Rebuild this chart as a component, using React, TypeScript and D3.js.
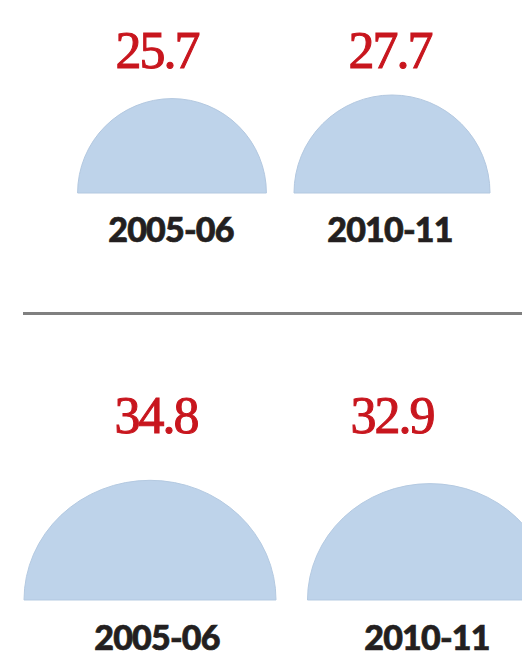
import React, { useEffect, useRef } from "react";
import * as d3 from "d3";

// two panels, each with two periods
const periods = ["2005-06", "2010-11"];
const topValues = [25.7, 27.7];
const bottomValues = [34.8, 32.9];

const width = 522;
const height = 656;

const App = () => {
  const chartRef = useRef<SVGSVGElement>(null);

  useEffect(() => {
    const svg = d3.select(chartRef.current);
    svg.selectAll("*").remove();

    svg
      .attr("width", width)
      .attr("height", height)
      .attr("viewBox", [0, 0, width, height])
      .style("background", "#ffffff");

    const rows = [
      {
        values: topValues,
        x: d3.scalePoint(periods, [172, 392]),
        r: d3.scaleSqrt([0, d3.max(topValues)], [0, 98]),
        squash: 1,
        base: 193,
        valueY: 68,
        valueDx: [-15, -2],
        labelY: 242,
        labelDx: [-1, -2],
      },
      {
        values: bottomValues,
        x: d3.scalePoint(periods, [150, 430]),
        r: d3.scaleSqrt([0, d3.max(bottomValues)], [0, 126]),
        squash: 0.95,
        base: 600,
        valueY: 433,
        valueDx: [6, -38],
        labelY: 650,
        labelDx: [7, -3],
      },
    ];

    const arc = d3
      .arc()
      .innerRadius(0)
      .startAngle(-Math.PI / 2)
      .endAngle(Math.PI / 2);

    rows.forEach((row) => {
      const g = svg.append("g");

      g.selectAll("path")
        .data(row.values)
        .join("path")
        .attr(
          "transform",
          (d, i) =>
            `translate(${row.x(periods[i])},${row.base}) scale(1,${row.squash})`
        )
        .attr("d", (d) => arc({ outerRadius: row.r(d) } as any))
        .attr("fill", "#bed3ea")
        .attr("stroke", "#b3c8e0")
        .attr("stroke-width", 1);

      g.selectAll("text.value")
        .data(row.values)
        .join("text")
        .attr("class", "value")
        .attr("x", (d, i) => row.x(periods[i]) + row.valueDx[i])
        .attr("y", row.valueY)
        .attr("text-anchor", "middle")
        .attr("fill", "#c8161e")
        .attr("stroke", "#c8161e")
        .attr("stroke-width", 1)
        .attr("font-family", "'Liberation Serif', 'DejaVu Serif', serif")
        .attr("font-size", 52)
        .attr("letter-spacing", -2)
        .text((d) => d.toFixed(1));

      g.selectAll("text.period")
        .data(periods)
        .join("text")
        .attr("class", "period")
        .attr("x", (d, i) => row.x(d) + row.labelDx[i])
        .attr("y", row.labelY)
        .attr("text-anchor", "middle")
        .attr("fill", "#231f20")
        .attr("stroke", "#231f20")
        .attr("stroke-width", 0.7)
        .attr("font-family", "Lato, 'Open Sans', sans-serif")
        .attr("font-weight", 900)
        .attr("font-size", 34)
        .attr("letter-spacing", -0.8)
        .text((d) => d);
    });

    // divider between the panels
    svg
      .append("line")
      .attr("x1", 23)
      .attr("x2", width)
      .attr("y1", 313.5)
      .attr("y2", 313.5)
      .attr("stroke", "#808080")
      .attr("stroke-width", 3);
  }, []);

  return (
    <div style={{ position: "fixed", left: 0, top: 0 }}>
      <svg ref={chartRef} style={{ display: "block" }}></svg>
    </div>
  );
};

export default App;
